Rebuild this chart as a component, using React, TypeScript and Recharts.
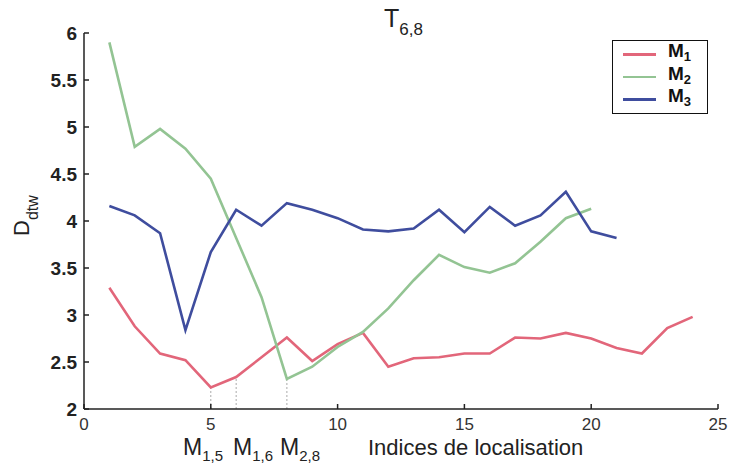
import React from 'react';
import { LineChart, Line, XAxis, YAxis, Legend, ReferenceLine } from 'recharts';

const xValues = [1, 2, 3, 4, 5, 6, 7, 8, 9, 10, 11, 12, 13, 14, 15, 16, 17, 18, 19, 20, 21, 22, 23, 24];
const m1 = [3.29, 2.88, 2.59, 2.52, 2.23, 2.34, 2.55, 2.76, 2.51, 2.69, 2.81, 2.45, 2.54, 2.55, 2.59, 2.59, 2.76, 2.75, 2.81, 2.75, 2.65, 2.59, 2.86, 2.98];
const m2 = [5.9, 4.79, 4.98, 4.77, 4.45, 3.82, 3.19, 2.32, 2.45, 2.66, 2.82, 3.07, 3.37, 3.64, 3.51, 3.45, 3.55, 3.78, 4.03, 4.13];
const m3 = [4.16, 4.06, 3.87, 2.84, 3.67, 4.12, 3.95, 4.19, 4.12, 4.03, 3.91, 3.89, 3.92, 4.12, 3.88, 4.15, 3.95, 4.06, 4.31, 3.89, 3.82];

const xTicks = [0, 5, 10, 15, 20, 25];
const yTicks = [2, 2.5, 3, 3.5, 4, 4.5, 5, 5.5, 6];

const seriesNames = ['M1', 'M2', 'M3'];
const seriesColors = ['#e2667a', '#93c493', '#3f4d9e'];

// dotted markers: [x, y-top]
const markers = [
  [5, 2.23],
  [6, 2.34],
  [8, 2.32],
];

const data = xValues.map((x, i) => ({
  x,
  M1: m1[i],
  M2: m2[i],
  M3: m3[i],
}));

const font = "'Liberation Sans', Arial, sans-serif";

const XTick = (props: any) => {
  const { x, y, payload } = props;
  return (
    <g>
      <line x1={x} x2={x} y1={y} y2={y - 5} stroke="#222" strokeWidth={1.5} />
      <text x={x} y={y + 21} textAnchor="middle" fontSize={17} fill="#333" fontFamily={font}>
        {payload.value}
      </text>
    </g>
  );
};

const YTick = (props: any) => {
  const { x, y, payload } = props;
  return (
    <g>
      <line x1={x} x2={x + 5} y1={y} y2={y} stroke="#222" strokeWidth={1.5} />
      <text x={x - 7} y={y + 7} textAnchor="end" fontSize={19} fontWeight="bold" fill="#222" fontFamily={font}>
        {payload.value}
      </text>
    </g>
  );
};

const LegendBox = (props: any) => {
  const payload = props.payload || [];
  return (
    <div
      style={{
        border: '1.5px solid #111',
        background: '#fff',
        width: 96,
        height: 74,
        boxSizing: 'border-box',
        paddingTop: 2,
        fontFamily: font,
      }}
    >
      {payload.map((p: any) => (
        <div key={p.value} style={{ display: 'flex', alignItems: 'center', height: 22.5 }}>
          <div style={{ marginLeft: 10, width: 33, height: 2.5, background: p.color }} />
          <div style={{ marginLeft: 12, fontSize: 19, fontWeight: 'bold', color: '#111', lineHeight: '20px' }}>
            {p.value.charAt(0)}
            <sub style={{ fontSize: 13, verticalAlign: '-4px' }}>{p.value.slice(1)}</sub>
          </div>
        </div>
      ))}
    </div>
  );
};

export default function App() {
  return (
    <div style={{ position: 'absolute', left: 0, top: 0, width: 732, height: 466, background: '#fff' }}>
      <LineChart width={732} height={466} data={data} margin={{ top: 33, right: 14, bottom: 0, left: 0 }}>
        <XAxis
          dataKey="x"
          type="number"
          domain={[0, 25]}
          ticks={xTicks}
          height={57}
          tickSize={0}
          tickMargin={0}
          tickLine={false}
          axisLine={{ stroke: '#222', strokeWidth: 1.5 }}
          tick={<XTick />}
          interval={0}
        />
        <YAxis
          type="number"
          domain={[2, 6]}
          ticks={yTicks}
          width={84}
          tickSize={0}
          tickMargin={0}
          tickLine={false}
          axisLine={{ stroke: '#222', strokeWidth: 1.5 }}
          tick={<YTick />}
          interval={0}
        />
        {markers.map(([mx, my]) => (
          <ReferenceLine
            key={mx}
            segment={[{ x: mx, y: 2 }, { x: mx, y: my }]}
            stroke="#aaa"
            strokeDasharray="2 2"
            strokeWidth={1}
          />
        ))}
        {seriesNames.map((name, i) => (
          <Line
            key={name}
            type="linear"
            dataKey={name}
            name={name}
            stroke={seriesColors[i]}
            strokeWidth={2.6}
            dot={false}
            isAnimationActive={false}
          />
        ))}
        <Legend
          verticalAlign="middle"
          align="center"
          layout="horizontal"
          content={<LegendBox />}
          wrapperStyle={{ left: 612, top: 40, width: 96, height: 74 }}
        />
      </LineChart>
      <svg width={732} height={466} style={{ position: 'absolute', left: 0, top: 0, pointerEvents: 'none' }}>
        <text x={384} y={27} fontSize={25} fill="#222" fontFamily={font}>
          T<tspan fontSize={17} dy={8}>6,8</tspan>
        </text>
        <text transform="translate(29,236) rotate(-90)" fontSize={22} fill="#222" fontFamily={font}>
          D<tspan fontSize={16} dy={9}>dtw</tspan>
        </text>
        <text x={183} y={455} fontSize={23} fill="#222" fontFamily={font}>
          M<tspan fontSize={15} dy={6}>1,5</tspan>
        </text>
        <text x={233} y={455} fontSize={23} fill="#222" fontFamily={font}>
          M<tspan fontSize={15} dy={6}>1,6</tspan>
        </text>
        <text x={280} y={455} fontSize={23} fill="#222" fontFamily={font}>
          M<tspan fontSize={15} dy={6}>2,8</tspan>
        </text>
        <text x={368} y={455} fontSize={22} fill="#222" fontFamily={font}>
          Indices de localisation
        </text>
      </svg>
    </div>
  );
}
